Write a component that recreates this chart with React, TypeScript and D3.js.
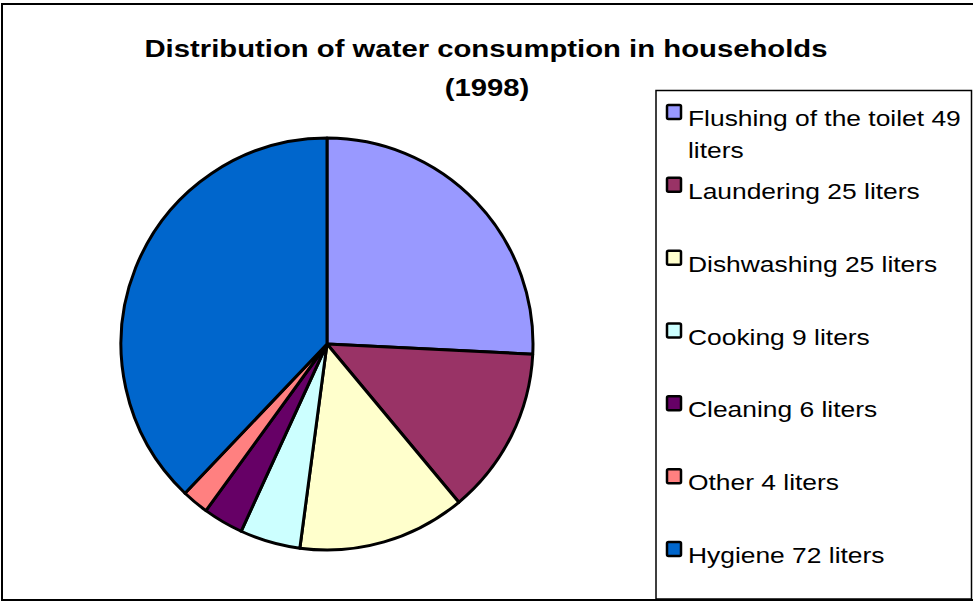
import React from "react";
import * as d3 from "d3";

const categories = [
  "Flushing of the toilet",
  "Laundering",
  "Dishwashing",
  "Cooking",
  "Cleaning",
  "Other",
  "Hygiene",
];
const liters = [49, 25, 25, 9, 6, 4, 72];
const colors = ["#9999FF", "#993366", "#FFFFCC", "#CCFFFF", "#660066", "#FF8080", "#0066CC"];
const titleLines = ["Distribution of water consumption in households", "(1998)"];

const W = 973,
  H = 601;

export default function App() {
  const cx = 327,
    cy = 344,
    radius = 206;

  const pie = d3
    .pie<number>()
    .sort(null)
    .startAngle(0)
    .endAngle(2 * Math.PI)(liters);
  const arc = d3.arc<d3.PieArcDatum<number>>().innerRadius(0).outerRadius(radius);

  // legend rows, first entry wraps onto a second line
  const rowY = d3.scaleLinear().domain([0, categories.length - 1]).range([126, 563]);
  const font = "'Liberation Sans', Arial, sans-serif";

  const slices = pie.map((d, i) => (
    <path
      key={"slice-" + i}
      d={arc(d) || ""}
      fill={colors[i]}
      stroke="#000"
      strokeWidth={3}
      strokeLinejoin="round"
    />
  ));

  const legendItems = categories.map((c, i) => {
    const y = rowY(i);
    const label = c + " " + liters[i] + " liters";
    const lines = i === 0 ? [c + " " + liters[i], "liters"] : [label];
    return (
      <g key={"legend-" + i}>
        <rect x={667} y={y - 21} width={14} height={14} rx={1.5} fill={colors[i]} stroke="#000" strokeWidth={2.5} />
        {lines.map((t, j) => (
          <text
            key={j}
            transform={`translate(688,${y + j * 32}) scale(1.2,1)`}
            fontSize={22}
            fontFamily={font}
            fill="#000"
          >
            {t}
          </text>
        ))}
      </g>
    );
  });

  return (
    <svg
      width={W}
      height={H}
      style={{ position: "absolute", left: 0, top: 0, display: "block", background: "#fff" }}
    >
      <rect x={2} y={4} width={W + 20} height={H - 5} fill="#fff" stroke="#000" strokeWidth={2} />
      <g>
        {titleLines.map((t, i) => (
          <text
            key={"title-" + i}
            transform={`translate(${i === 0 ? 486 : 487},${i === 0 ? 57 : 96}) scale(1.22,1)`}
            textAnchor="middle"
            fontSize={24}
            fontWeight="bold"
            fontFamily={font}
            fill="#000"
          >
            {t}
          </text>
        ))}
      </g>
      <g transform={`translate(${cx},${cy})`}>{slices}</g>
      <rect x={656} y={90.5} width={315.5} height={508.5} fill="#fff" stroke="#000" strokeWidth={1.5} />
      <g>{legendItems}</g>
    </svg>
  );
}
